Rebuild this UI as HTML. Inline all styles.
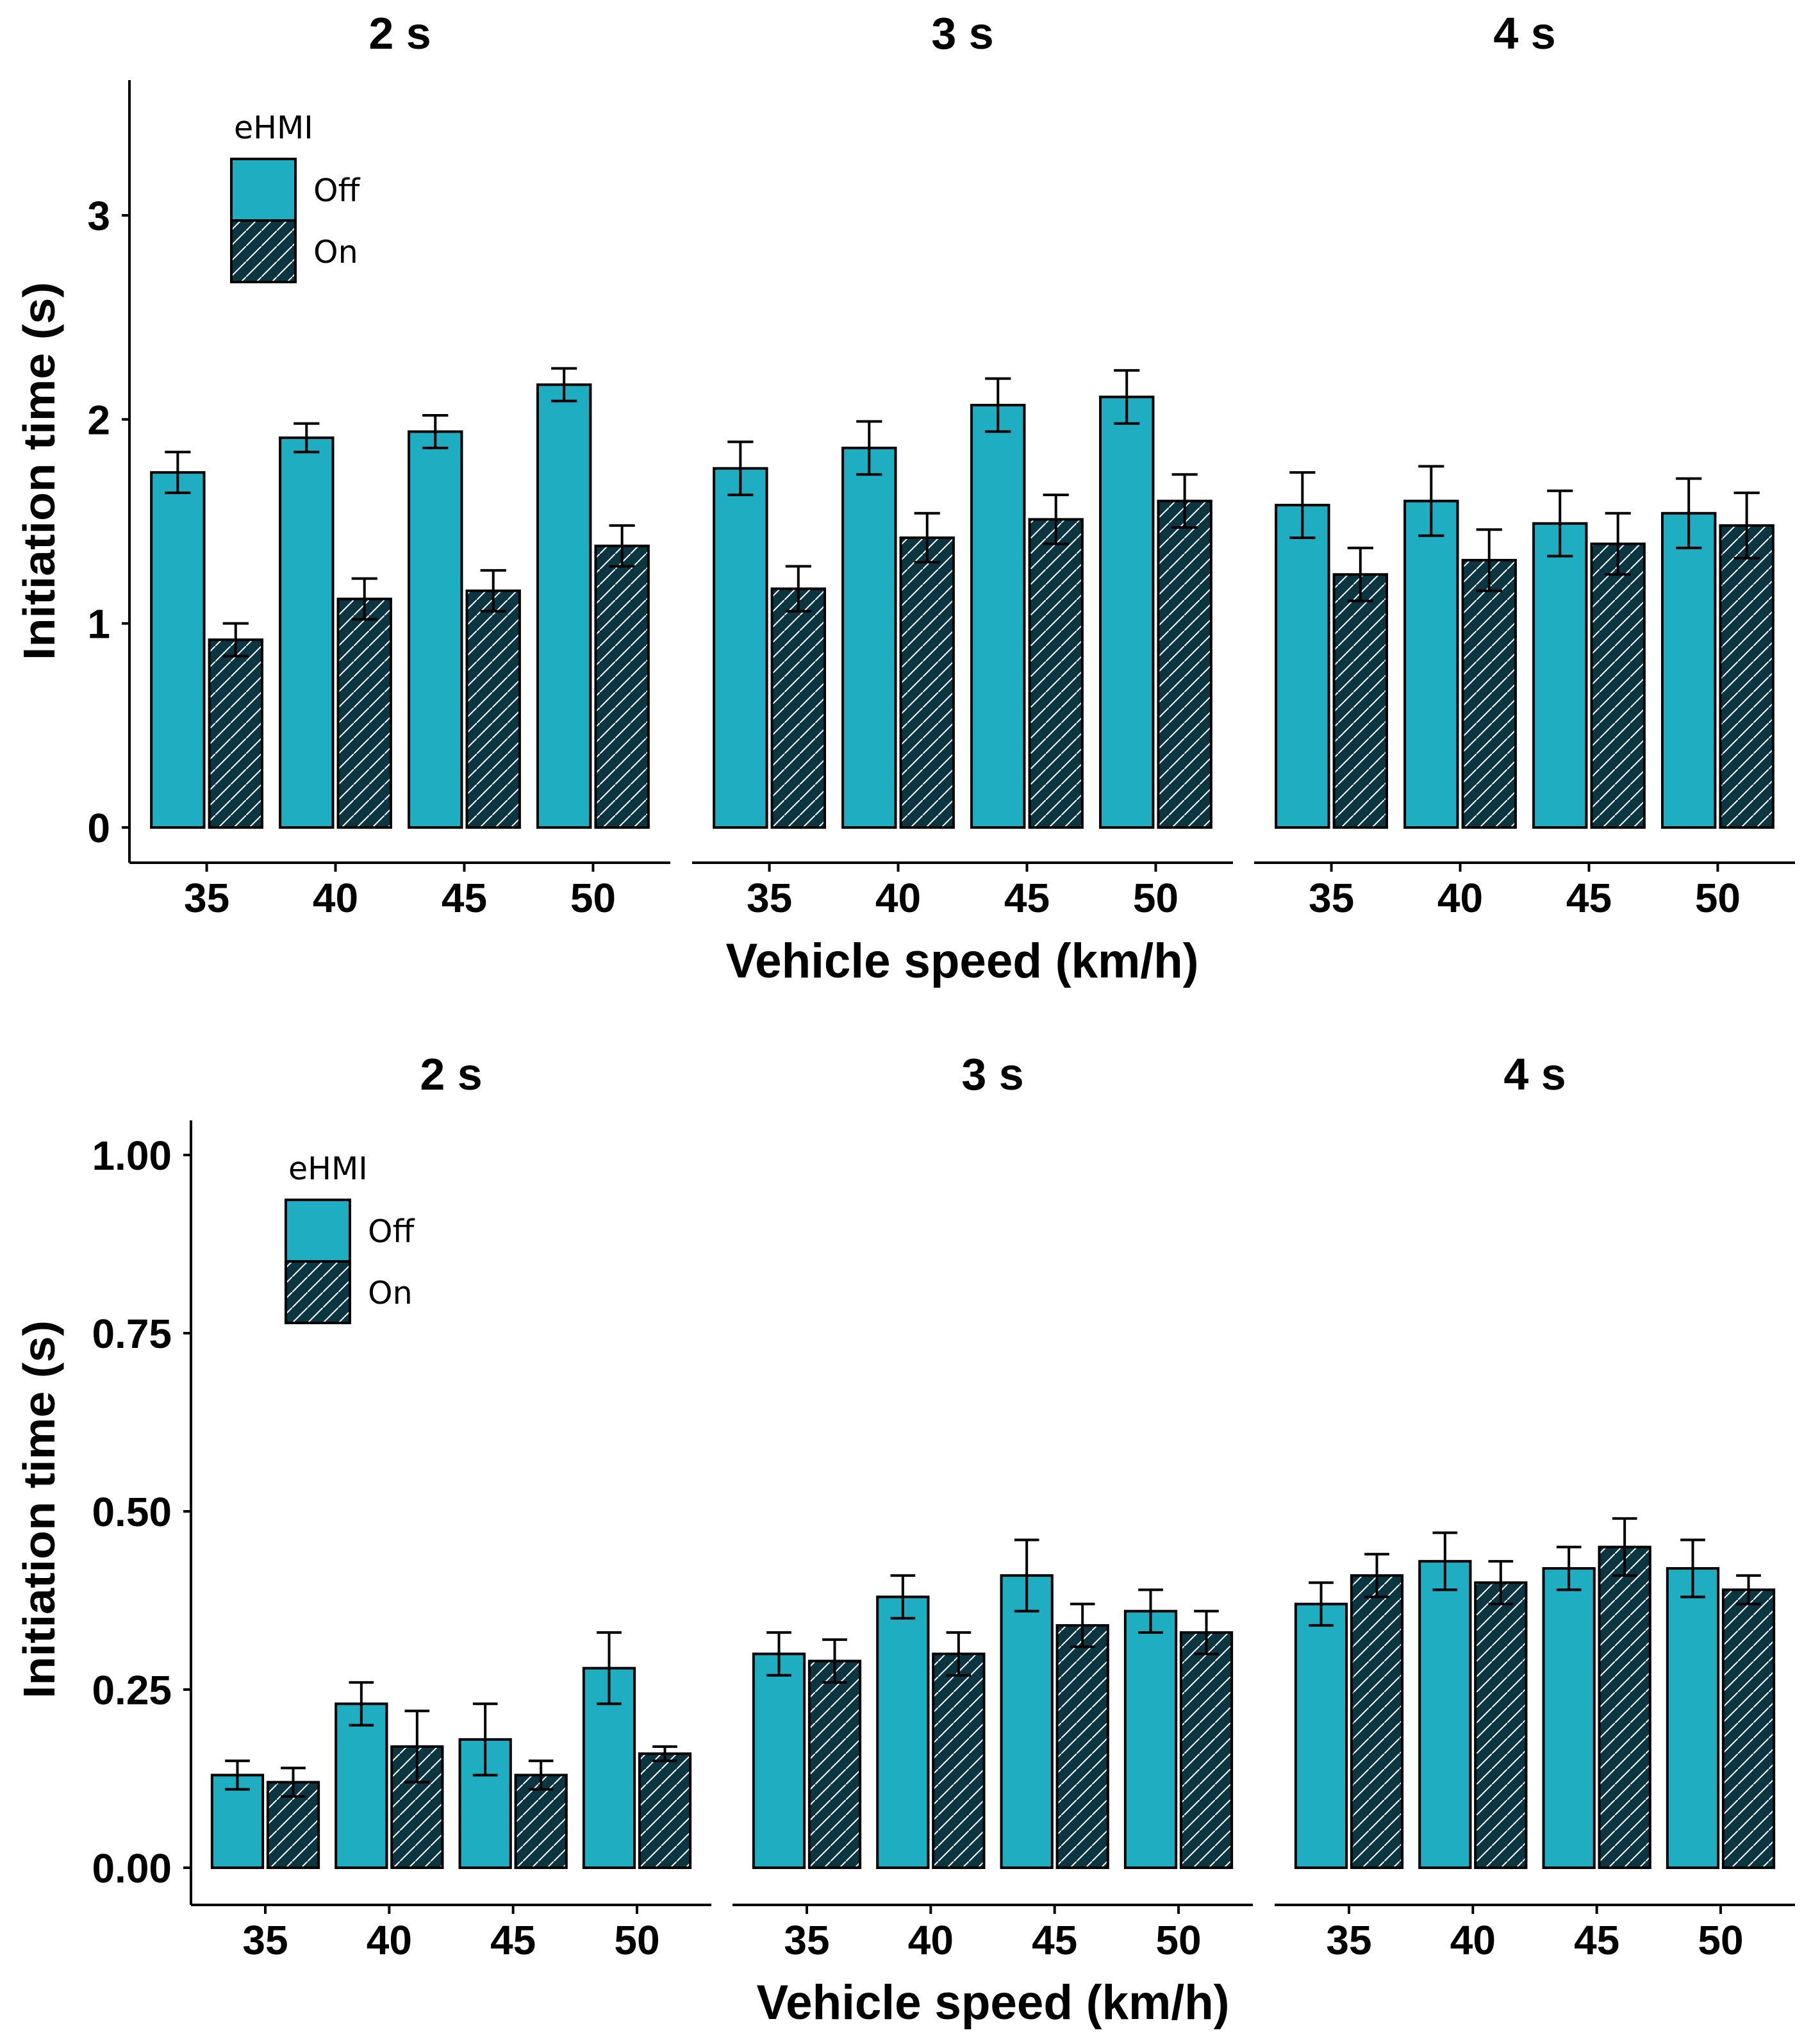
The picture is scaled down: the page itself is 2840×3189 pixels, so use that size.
<!DOCTYPE html>
<html><head><meta charset="utf-8"><style>html,body{margin:0;padding:0;background:#fff}svg{display:block}</style></head>
<body>
<svg id="chart" xmlns="http://www.w3.org/2000/svg" width="2840" height="3189" viewBox="0 0 2840 3189">
<defs>
<pattern id="hatch" patternUnits="userSpaceOnUse" width="24" height="24">
<rect width="24" height="24" fill="#0b3540"/>
<line x1="-6" y1="30" x2="30" y2="-6" stroke="#ffffff" stroke-width="2"/>
</pattern>
</defs>
<rect width="2840" height="3189" fill="#fff"/>
</svg>
<script>
const speeds = ["35","40","45","50"];
const panelTitles = ["2 s","3 s","4 s"];
// top chart
const topOff = [[1.74,1.91,1.94,2.17],[1.76,1.86,2.07,2.11],[1.58,1.60,1.49,1.54]];
const topOffErr = [[0.10,0.07,0.08,0.08],[0.13,0.13,0.13,0.13],[0.16,0.17,0.16,0.17]];
const topOn = [[0.92,1.12,1.16,1.38],[1.17,1.42,1.51,1.60],[1.24,1.31,1.39,1.48]];
const topOnErr = [[0.08,0.10,0.10,0.10],[0.11,0.12,0.12,0.13],[0.13,0.15,0.15,0.16]];
const topTicks = [0,1,2,3];
const topTickLabels = ["0","1","2","3"];
// bottom chart
const botOff = [[0.13,0.23,0.18,0.28],[0.30,0.38,0.41,0.36],[0.37,0.43,0.42,0.42]];
const botOffErr = [[0.02,0.03,0.05,0.05],[0.03,0.03,0.05,0.03],[0.03,0.04,0.03,0.04]];
const botOn = [[0.12,0.17,0.13,0.16],[0.29,0.30,0.34,0.33],[0.41,0.40,0.45,0.39]];
const botOnErr = [[0.02,0.05,0.02,0.01],[0.03,0.03,0.03,0.03],[0.03,0.03,0.04,0.02]];
const botTicks = [0,0.25,0.5,0.75,1.0];
const botTickLabels = ["0.00","0.25","0.50","0.75","1.00"];

const svg = document.getElementById('chart');
const NS = 'http://www.w3.org/2000/svg';
const TICKFONT = 'Liberation Sans, sans-serif';
function mk(tag, attrs, parent){const e=document.createElementNS(NS,tag);for(const k in attrs)e.setAttribute(k,attrs[k]);(parent||svg).appendChild(e);return e;}

function drawChart(cfg){
  const g = mk('g',{});
  
  
  const y = v => cfg.y0 + (cfg.y1 - cfg.y0) * (v - cfg.vmin) / (cfg.vmax - cfg.vmin);
  const ya = mk('line',{x1:cfg.px[0],x2:cfg.px[0],y1:cfg.axisTop,y2:cfg.axisY,stroke:'#000','stroke-width':4},g);
  
  
  cfg.ticks.forEach((t,i)=>{
    const tk = mk('line',{x1:cfg.px[0]-12,x2:cfg.px[0],y1:y(t),y2:y(t),stroke:'#000','stroke-width':4},g);
    
    
    const tl = mk('text',{x:cfg.px[0]-30,y:y(t)+23,'text-anchor':'end','font-family':TICKFONT,'font-weight':'bold','font-size':64,fill:'#000'},g);
    tl.textContent = cfg.tickLabels[i];
    
    
  });
  const yt = mk('text',{transform:`translate(${cfg.ytX},${cfg.ytY}) rotate(-90)`,'text-anchor':'middle','font-family':'Liberation Sans, sans-serif','font-weight':'bold','font-size':70,textLength:590,lengthAdjust:'spacingAndGlyphs',fill:'#000'},g);
  yt.textContent = 'Initiation time (s)';
  
  
  for(let p=0;p<3;p++){
    const x0 = cfg.px[p], u = cfg.pw/4.2;
    const cx = i => x0 + (i+0.6)*u;
    const xa = mk('line',{x1:x0,x2:x0+cfg.pw,y1:cfg.axisY,y2:cfg.axisY,stroke:'#000','stroke-width':4},g);
    
    
    const st = mk('text',{x:x0+cfg.pw/2,y:cfg.stripY,'text-anchor':'middle','font-family':TICKFONT,'font-weight':'bold','font-size':70,fill:'#000'},g);
    st.textContent = panelTitles[p];
    
    
    speeds.forEach((s,i)=>{
      const c = cx(i);
      const tk = mk('line',{x1:c,x2:c,y1:cfg.axisY,y2:cfg.axisY+14,stroke:'#000','stroke-width':4},g);
      
      
      const tl = mk('text',{x:c,y:cfg.axisY+77,'text-anchor':'middle','font-family':TICKFONT,'font-weight':'bold','font-size':64,fill:'#000'},g);
      tl.textContent = s;
      
      
      [[cfg.off,cfg.offErr,-0.225,'#1fadc2','bar-off'],[cfg.on,cfg.onErr,0.225,'url(#hatch)','bar-on']].forEach(([vals,errs,off,fill,nm])=>{
        const v = vals[p][i], e = errs[p][i];
        const bc = c + off*u, bw = 0.41*u;
        const r = mk('rect',{x:bc-bw/2,y:y(v),width:bw,height:y(0)-y(v),fill:fill,stroke:'#000','stroke-width':4},g);
        
        
        const eb = mk('path',{d:`M${bc-0.1*u},${y(v+e)}H${bc+0.1*u}M${bc},${y(v+e)}V${y(v-e)}M${bc-0.1*u},${y(v-e)}H${bc+0.1*u}`,stroke:'#000','stroke-width':4,fill:'none'},g);
        
        
      });
    });
  }
  const xt = mk('text',{x:(cfg.px[0]+cfg.px[2]+cfg.pw)/2,y:cfg.xtY,'text-anchor':'middle','font-family':'Liberation Sans, sans-serif','font-weight':'bold','font-size':76,textLength:738,lengthAdjust:'spacingAndGlyphs',fill:'#000'},g);
  xt.textContent = 'Vehicle speed (km/h)';
  
  
  const L = cfg.leg;
  const lg = mk('g',{},g);
  
  
  const lt = mk('text',{x:L.x+4,y:L.y-32,'font-family':'DejaVu Sans, sans-serif','font-size':49,fill:'#000'},lg);
  lt.textContent='eHMI';
  
  
  [['#1fadc2','Off',0],['url(#hatch)','On',1]].forEach(([f,t,k])=>{
    const kr = mk('rect',{x:L.x,y:L.y+k*96,width:100,height:96,fill:f,stroke:'#000','stroke-width':4},lg);
    
    
    const kt = mk('text',{x:L.x+128,y:L.y+k*96+66,'font-family':'DejaVu Sans, sans-serif','font-size':49,fill:'#000'},lg);
    kt.textContent=t;
    
    
  });
}

drawChart({name:'top-chart',px:[202,1080,1957],pw:844,vmin:0,vmax:3,y0:1291,y1:336,axisTop:125,axisY:1346,
  ticks:topTicks,tickLabels:topTickLabels,off:topOff,offErr:topOffErr,on:topOn,onErr:topOnErr,
  stripY:76,xtY:1525,ytX:85,ytY:735,leg:{x:361,y:248}});
drawChart({name:'bottom-chart',px:[298,1143,1989],pw:812,vmin:0,vmax:1,y0:2914,y1:1802,axisTop:1748,axisY:2972,
  ticks:botTicks,tickLabels:botTickLabels,off:botOff,offErr:botOffErr,on:botOn,onErr:botOnErr,
  stripY:1700,xtY:3150,ytX:85,ytY:2355,leg:{x:446,y:1872}});
</script>
</body></html>
